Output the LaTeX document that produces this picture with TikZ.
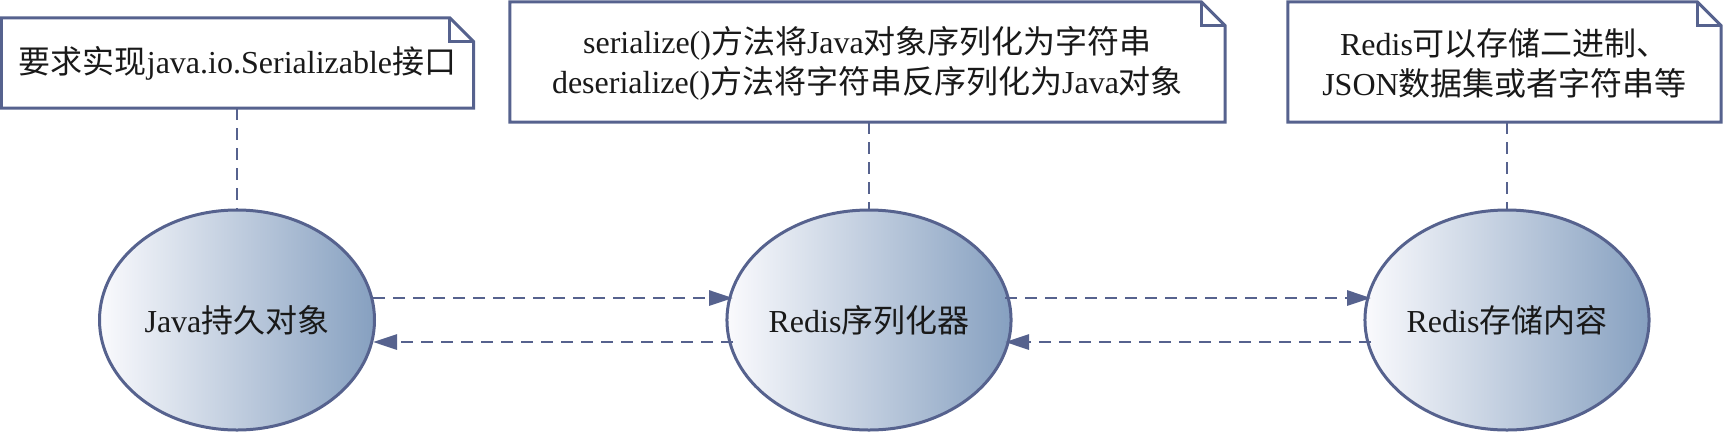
\documentclass[tikz,border=0pt]{standalone}
\usepackage{fontspec}
\setmainfont{Liberation Serif}
\newfontfamily\cjk{Noto Sans CJK SC}
\newcommand{\zh}[1]{{\cjk #1}}
\usetikzlibrary{shapes.geometric,arrows.meta}
\definecolor{edgecol}{RGB}{86,98,142}
\definecolor{ellright}{RGB}{134,160,192}
\definecolor{ellleft}{RGB}{250,250,253}
\definecolor{txtcol}{RGB}{25,25,25}
\tikzset{
  ellnode/.style={ellipse, draw=edgecol, line width=3pt, minimum width=275pt, minimum height=220pt, inner sep=0pt, left color=ellleft, right color=ellright, text=txtcol, font=\fontsize{32}{40}\selectfont},
  notebox/.style={rectangle, inner sep=0pt, align=center, text=txtcol, font=\fontsize{32}{40}\selectfont},
  noteline/.style={draw=edgecol, line width=3pt, line join=miter, fill=white},
  dashline/.style={draw=edgecol, line width=2.9pt, dash pattern=on 12pt off 8pt},
  flowarrow/.style={dashline, -{Triangle[length=24pt,width=15pt,fill=edgecol]}}
}
\begin{document}
\begin{tikzpicture}[x=1pt,y=-1pt]
\useasboundingbox (0,0) rectangle (1723,432);
% ellipses
\node[ellnode] (e1) at (237,320) {Java\zh{持久对象}};
\node[ellnode] (e2) at (869,320) {Redis\zh{序列化器}};
\node[ellnode] (e3) at (1507,320) {Redis\zh{存储内容}};
% arrow end points on the ellipse borders
\foreach \e in {e1,e2,e3}{
  \coordinate (\e ur) at ([shift={(136,-22)}]\e.center);
  \coordinate (\e lr) at ([shift={(136,22)}]\e.center);
  \coordinate (\e ul) at ([shift={(-136,-22)}]\e.center);
  \coordinate (\e ll) at ([shift={(-136,22)}]\e.center);
}
% note boxes
\node[notebox, minimum width=472pt, minimum height=90pt] (n1) at (237.5,63) {};
\node[notebox, minimum width=715pt, minimum height=120pt] (n2) at (867.5,62) {};
\node[notebox, minimum width=433pt, minimum height=120pt] (n3) at (1504.5,62) {};
\foreach \n in {n1,n2,n3}{
  \draw[noteline] (\n.north west) -- ([xshift=-24pt]\n.north east) -- ([yshift=-24pt]\n.north east) -- (\n.south east) -- (\n.south west) -- cycle;
  \draw[noteline, fill=none] ([xshift=-24pt]\n.north east) |- ([yshift=-24pt]\n.north east);
}
\node[notebox] (t1) at (n1.center) {\zh{要求实现}java.io.Serializable\zh{接口}};
\node[notebox] (t2) at ([yshift=-1pt]n2.center) {serialize()\zh{方法将}Java\zh{对象序列化为字符串}\\deserialize()\zh{方法将字符串反序列化为}Java\zh{对象}};
\node[notebox] (t3) at ([yshift=-1pt]n3.center) {Redis\zh{可以存储二进制、}\\JSON\zh{数据集或者字符串等}};
% connectors from notes to ellipses
\draw[dashline] (e1.north |- n1.south) -- (e1.north);
\draw[dashline] (e2.north |- n2.south) -- (e2.north);
\draw[dashline] (e3.north |- n3.south) -- (e3.north);
% flow arrows
\draw[flowarrow] (e1ur) -- (e2ul);
\draw[flowarrow] (e2ll) -- (e1lr);
\draw[flowarrow] (e2ur) -- (e3ul);
\draw[flowarrow] (e3ll) -- (e2lr);
\end{tikzpicture}
\end{document}
